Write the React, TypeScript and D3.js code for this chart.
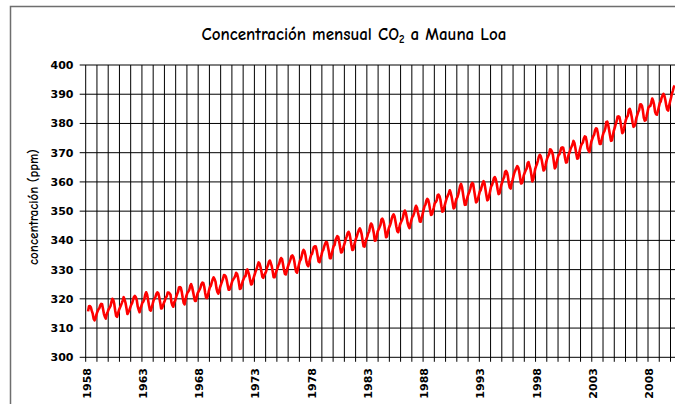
import React from 'react';
import * as d3 from 'd3';

// Monthly mean CO2 at Mauna Loa (ppm), starting March 1958
const startYear = 1958;
const startMonth = 3;

const co2_1958_1959 = [
  315.71, 317.45, 317.5, 317.1, 315.86, 314.93, 313.2, 312.66, 313.33, 314.67,
  315.62, 316.38, 316.71, 317.72, 318.29, 318.15, 316.54, 314.8, 313.84, 313.26, 314.8, 315.58,
];
const co2_1960s = [
  316.43, 316.97, 317.58, 319.02, 320.03, 319.59, 318.18, 315.91, 314.16, 313.83, 315.0, 316.19,
  316.93, 317.7, 318.54, 319.48, 320.58, 319.77, 318.57, 316.79, 314.8, 315.38, 316.1, 317.01,
  317.94, 318.56, 319.68, 320.63, 321.01, 320.55, 319.58, 317.4, 316.26, 315.42, 316.69, 317.69,
  318.74, 319.08, 319.86, 321.39, 322.25, 321.47, 319.74, 317.77, 316.21, 315.99, 317.12, 318.31,
  319.57, 320.07, 320.73, 321.77, 322.25, 321.89, 320.44, 318.7, 316.7, 316.79, 317.79, 318.71,
  319.44, 320.44, 320.89, 322.13, 322.16, 321.87, 321.39, 318.81, 317.81, 317.3, 318.87, 319.42,
  320.62, 321.59, 322.39, 323.87, 324.01, 323.75, 322.39, 320.37, 318.64, 318.1, 319.79, 321.08,
  322.07, 322.5, 323.04, 324.42, 325.0, 324.09, 322.55, 320.92, 319.31, 319.31, 320.72, 321.96,
  322.57, 323.15, 323.89, 325.02, 325.57, 325.36, 324.14, 322.03, 320.41, 320.25, 321.31, 322.84,
  324.0, 324.42, 325.64, 326.66, 327.34, 326.76, 325.88, 323.67, 322.38, 321.78, 322.85, 324.12,
];
const co2_1970s = [
  325.03, 325.99, 326.87, 328.13, 328.07, 327.66, 326.35, 324.69, 323.1, 323.16, 323.98, 325.13,
  326.17, 326.68, 327.18, 327.78, 328.92, 328.57, 327.34, 325.46, 323.36, 323.57, 324.8, 326.01,
  326.77, 327.63, 327.75, 329.72, 330.07, 329.09, 328.05, 326.32, 324.93, 325.06, 326.5, 327.55,
  328.54, 329.56, 330.3, 331.5, 332.48, 332.07, 330.87, 329.31, 327.51, 327.18, 328.16, 328.64,
  329.35, 330.71, 331.48, 332.65, 333.09, 332.25, 331.18, 329.4, 327.43, 327.37, 328.46, 329.57,
  330.4, 331.4, 332.04, 333.31, 333.96, 333.59, 331.91, 330.06, 328.56, 328.34, 329.49, 330.76,
  331.75, 332.56, 333.5, 334.58, 334.87, 334.34, 333.05, 330.94, 329.3, 328.94, 330.31, 331.68,
  332.93, 333.42, 334.7, 336.07, 336.74, 336.27, 334.93, 332.75, 331.58, 331.16, 332.4, 333.85,
  334.97, 335.39, 336.64, 337.76, 338.01, 337.89, 336.54, 334.68, 332.76, 332.54, 333.92, 334.95,
  336.23, 336.76, 337.96, 338.89, 339.47, 339.29, 337.73, 336.09, 333.91, 333.86, 335.29, 336.73,
];
const co2_1980s = [
  338.01, 338.36, 340.08, 340.77, 341.46, 341.17, 339.56, 337.6, 335.88, 336.01, 337.1, 338.21,
  339.23, 340.47, 341.38, 342.51, 342.91, 342.25, 340.49, 338.43, 336.69, 336.85, 338.36, 339.61,
  340.75, 341.61, 342.7, 343.56, 344.13, 343.35, 342.06, 339.82, 337.97, 337.86, 339.26, 340.49,
  341.38, 342.52, 343.1, 344.94, 345.75, 345.32, 343.99, 342.39, 339.86, 339.99, 341.16, 342.99,
  343.7, 344.51, 345.28, 347.08, 347.43, 346.79, 345.4, 343.28, 341.07, 341.35, 342.98, 344.22,
  344.97, 345.99, 347.42, 348.35, 348.93, 348.25, 346.56, 344.67, 343.09, 342.8, 344.24, 345.56,
  346.3, 346.95, 347.85, 349.55, 350.21, 349.54, 347.94, 345.91, 344.86, 344.17, 345.66, 346.9,
  348.02, 348.47, 349.42, 350.99, 351.84, 351.25, 349.52, 348.1, 346.44, 346.36, 347.81, 348.96,
  350.43, 351.72, 352.22, 353.59, 354.22, 353.79, 352.39, 350.44, 348.72, 348.88, 350.07, 351.34,
  352.76, 353.07, 353.68, 355.42, 355.67, 355.13, 353.9, 351.67, 349.8, 349.99, 351.3, 352.53,
];
const co2_1990s = [
  353.66, 354.7, 355.39, 356.2, 357.16, 356.22, 354.82, 352.91, 350.96, 351.18, 352.83, 354.21,
  354.72, 355.75, 357.16, 358.6, 359.34, 358.24, 356.17, 354.03, 352.16, 352.21, 353.75, 354.99,
  355.98, 356.72, 357.81, 359.15, 359.66, 359.25, 357.03, 355.0, 353.01, 353.31, 354.16, 355.4,
  356.7, 357.17, 358.38, 359.46, 360.28, 359.6, 357.57, 355.52, 353.7, 353.98, 355.33, 356.8,
  358.36, 358.91, 359.97, 361.26, 361.68, 360.95, 359.55, 357.49, 355.84, 356.0, 357.58, 359.04,
  359.97, 361.0, 361.64, 363.45, 363.79, 363.26, 361.9, 359.46, 358.06, 357.75, 359.56, 360.7,
  362.05, 363.25, 364.03, 364.72, 365.41, 364.97, 363.65, 361.49, 359.46, 359.6, 360.76, 362.33,
  363.18, 364.0, 364.57, 366.35, 366.79, 365.62, 364.47, 362.51, 360.19, 360.77, 362.43, 364.28,
  365.32, 366.15, 367.31, 368.61, 369.29, 368.87, 367.64, 365.77, 363.9, 364.23, 365.46, 366.97,
  368.15, 368.87, 369.59, 371.14, 371.0, 370.35, 369.27, 366.94, 364.63, 365.12, 366.67, 368.01,
];
const co2_2000s = [
  369.14, 369.46, 370.52, 371.66, 371.82, 371.7, 370.12, 368.12, 366.62, 366.73, 368.29, 369.53,
  370.28, 371.5, 372.12, 372.87, 374.02, 373.3, 371.62, 369.55, 367.96, 368.09, 369.68, 371.24,
  372.44, 373.08, 373.52, 374.85, 375.55, 375.4, 374.02, 371.48, 370.71, 370.25, 372.08, 373.78,
  374.68, 375.63, 376.11, 377.65, 378.35, 378.13, 376.62, 374.5, 372.99, 373.0, 374.35, 375.7,
  376.79, 377.37, 378.41, 380.52, 380.63, 379.57, 377.79, 375.86, 374.06, 374.24, 375.86, 377.48,
  378.46, 379.73, 380.77, 382.29, 382.45, 382.21, 380.74, 378.74, 376.7, 377.0, 378.35, 380.11,
  381.38, 382.19, 382.67, 384.61, 385.03, 384.05, 382.46, 380.41, 378.85, 379.13, 380.15, 381.82,
  382.89, 383.9, 384.58, 386.5, 386.56, 386.1, 384.5, 381.99, 380.96, 381.12, 382.45, 383.95,
  385.52, 385.82, 386.03, 387.21, 388.54, 387.76, 386.36, 384.09, 383.18, 382.99, 384.19, 385.56,
  386.94, 387.48, 388.82, 389.55, 390.14, 389.48, 388.03, 386.11, 384.74, 384.43, 386.02, 387.42,
];
const co2_2010 = [388.71, 390.2, 391.17, 392.46, 393.0];

const co2Monthly = [
  ...co2_1958_1959,
  ...co2_1960s,
  ...co2_1970s,
  ...co2_1980s,
  ...co2_1990s,
  ...co2_2000s,
  ...co2_2010,
];

const yTicks = [300, 310, 320, 330, 340, 350, 360, 370, 380, 390, 400];
const xLabelYears = [1958, 1963, 1968, 1973, 1978, 1983, 1988, 1993, 1998, 2003, 2008];
const xTickYears = d3.range(1958, 2011);

const titleFont = "'Comic Sans MS', 'Comic Neue', 'DejaVu Sans', sans-serif";
const axisFont = "Verdana, 'DejaVu Sans', sans-serif";

export default function App() {
  const W = 675;
  const H = 404;
  const x = d3.scaleLinear().domain([1958, 2010.4]).range([85.7, 675]);
  const y = d3.scaleLinear().domain([300, 400]).range([357.3, 65]);

  const points = co2Monthly.map((v, i) => ({
    t: startYear + (startMonth - 1 + i + 0.5) / 12,
    v,
  }));
  const line = d3
    .line<{ t: number; v: number }>()
    .x((d) => x(d.t))
    .y((d) => y(d.v));

  const x0 = x(1958);
  const xEnd = W;
  const yBottom = y(300);
  const yTop = y(400);

  return (
    <svg
      width={W}
      height={H}
      style={{ position: 'absolute', left: 0, top: 0, background: '#fff' }}
    >
      <rect x={0} y={0} width={W} height={H} fill="#fff" />
      {/* outer frame */}
      <rect x={10.5} y={6.5} width={720} height={440} fill="none" stroke="#6e6e6e" strokeWidth={1.5} />

      {/* title */}
      <text
        x={354}
        y={40}
        textAnchor="middle"
        fontFamily={titleFont}
        fontSize={17}
        fontWeight="bold"
        fill="#000"
      >
        Concentración mensual CO
        <tspan fontSize={11} dy={3}>2</tspan>
        <tspan dy={-3}> a Mauna Loa</tspan>
      </text>

      {/* horizontal gridlines */}
      {yTicks.map((t) => (
        <g key={'h' + t}>
          <line x1={x0 - 6} x2={xEnd} y1={y(t)} y2={y(t)} stroke="#000" strokeWidth={1} />
          <text
            x={73.5}
            y={y(t) + 4}
            textAnchor="end"
            fontFamily={axisFont}
            fontWeight="bold"
            fontSize={11}
            fill="#000"
          >
            {t}
          </text>
        </g>
      ))}

      {/* vertical gridlines & ticks */}
      {xTickYears.map((yr) => (
        <line
          key={'v' + yr}
          x1={x(yr)}
          x2={x(yr)}
          y1={yTop}
          y2={yBottom + 4.5}
          stroke="#000"
          strokeWidth={1}
        />
      ))}

      {/* x labels */}
      {xLabelYears.map((yr) => (
        <text
          key={'xl' + yr}
          transform={`translate(${x(yr) + 5},${368}) rotate(-90)`}
          textAnchor="end"
          fontFamily={axisFont}
          fontWeight="bold"
          fontSize={11}
          fill="#000"
        >
          {yr}
        </text>
      ))}

      {/* y axis title */}
      <text
        transform={`translate(38,207) rotate(-90)`}
        textAnchor="middle"
        fontFamily={titleFont}
        fontWeight="bold"
        fontSize={13}
        fill="#000"
      >
        concentración (ppm)
      </text>

      {/* data line */}
      <path d={line(points) || ''} fill="none" stroke="#ff0000" strokeWidth={2.6} strokeLinejoin="round" />
    </svg>
  );
}
